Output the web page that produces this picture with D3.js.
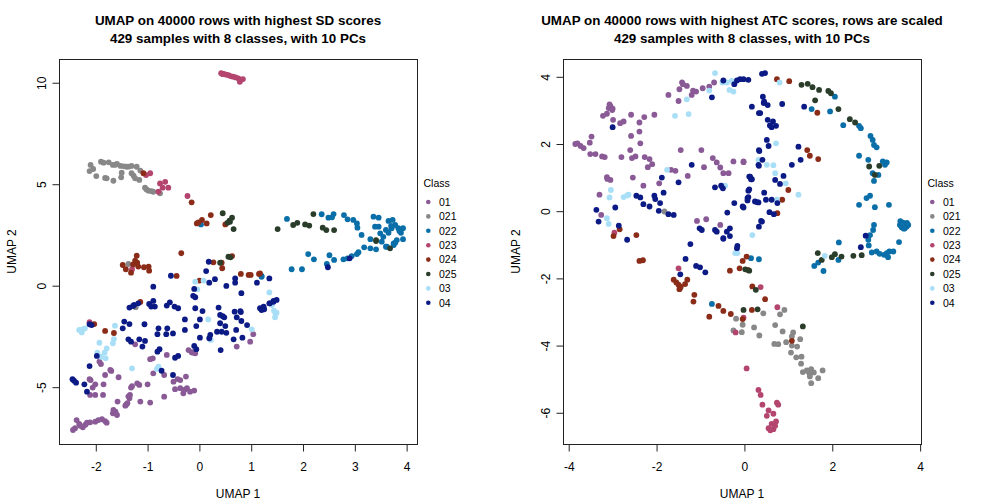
<!DOCTYPE html>
<html>
<head>
<meta charset="utf-8">
<script src="https://cdn.jsdelivr.net/npm/d3@7"></script>
<style>
  body { margin: 0; background: #fff; }
  svg text { font-family: "Liberation Sans", Arial, sans-serif; }
</style>
</head>
<body>
<div id="vis"></div>
<script>
const classes = ["01", "021", "022", "023", "024", "025", "03", "04"];
const class_colors = ["#8a5a96", "#888888", "#0a6fa8", "#b4456e", "#8b2c18", "#2a3d2a", "#a8dff7", "#0c1a85"];

const sd_titles = ["UMAP on 40000 rows with highest SD scores", "429 samples with 8 classes, with 10 PCs"];
const atc_titles = ["UMAP on 40000 rows with highest ATC scores, rows are scaled", "429 samples with 8 classes, with 10 PCs"];
const sd_xticks = [-2, -1, 0, 1, 2, 3, 4];
const sd_yticks = [-5, 0, 5, 10];
const atc_xticks = [-4, -2, 0, 2, 4];
const atc_yticks = [-6, -4, -2, 0, 2, 4];

// SD panel, one array per class, [UMAP 1, UMAP 2]
const sd_01 = [[-1.24,-2.89],[-0.90,-3.58],[-0.63,-3.41],[-0.21,-3.17],[-0.15,-3.28],[-0.08,-3.33],[0.72,-3.00],[0.98,-2.76],[1.04,-2.39],[-1.93,-3.74],[-1.90,-3.86],[-1.72,-4.15],[-1.82,-4.40],[-1.56,-4.51],[-0.89,-4.32],[-0.68,-4.40],[-2.10,-4.65],[-2.01,-4.86],[-2.06,-5.02],[-1.85,-4.86],[-1.32,-5.02],[-1.20,-4.81],[-1.16,-4.89],[-1.00,-4.86],[-0.50,-4.73],[-0.37,-4.65],[-0.26,-4.48],[-0.47,-5.10],[-0.37,-5.05],[-0.24,-5.05],[-0.18,-5.22],[-0.10,-5.17],[-0.31,-5.30],[-2.11,-5.38],[-2.01,-5.38],[-1.86,-5.38],[-1.34,-5.38],[-1.35,-5.55],[-1.39,-5.79],[-1.43,-5.91],[-1.58,-5.71],[-1.14,-5.71],[-0.95,-5.76],[-0.68,-5.47],[-1.66,-6.12],[-1.67,-6.29],[-1.59,-6.37],[-1.88,-6.58],[-1.82,-6.67],[-2.01,-6.70],[-2.17,-6.75],[-2.37,-6.62],[-2.32,-6.81],[-2.40,-7.02],[-2.44,-7.11],[-2.25,-6.98],[-2.11,-6.73],[-1.79,-6.75],[-2.12,-4.61],[-1.37,-5.45],[-1.41,-5.85],[-0.42,-4.60],[-0.28,-5.12],[-2.30,-6.90],[-1.95,-6.62],[-1.62,-6.20],[-1.70,-4.20],[-0.95,-3.62],[-0.12,-3.30],[-1.30,-4.95],[-2.20,-6.85]];
const sd_021 = [[-2.10,5.95],[-2.12,5.65],[-1.99,5.40],[-1.90,6.11],[-1.85,6.06],[-1.82,5.31],[-1.66,5.17],[-1.67,5.95],[-1.59,6.00],[-1.52,5.90],[-1.40,5.86],[-1.31,5.90],[-1.21,5.86],[-1.14,5.67],[-1.50,5.57],[-1.51,5.34],[-1.31,5.54],[-1.24,5.29],[-1.16,5.21],[-1.05,4.83],[-0.98,4.68],[-0.89,4.63],[-0.76,4.55],[-1.79,5.29],[-2.05,5.75],[-1.75,6.08],[-1.45,5.88],[-1.27,5.42],[-0.93,4.66],[-1.02,4.74],[-1.62,5.96],[-1.36,5.87],[-1.37,1.07],[-1.23,-1.06]];
const sd_022 = [[1.69,3.29],[2.36,3.52],[2.49,3.35],[2.59,3.53],[2.56,3.37],[2.79,3.48],[2.86,3.27],[2.97,3.24],[3.04,3.07],[3.05,2.86],[3.13,2.50],[3.36,3.40],[3.46,3.35],[3.39,2.91],[3.46,2.91],[3.49,2.58],[3.65,3.19],[3.73,3.24],[3.78,2.99],[3.71,2.83],[3.84,2.83],[3.93,2.83],[3.89,2.61],[3.93,2.29],[3.65,2.61],[3.55,2.41],[3.30,2.29],[3.18,1.89],[3.30,1.84],[3.41,1.79],[3.62,1.92],[3.75,2.09],[3.81,2.25],[2.10,1.56],[2.21,1.30],[2.51,1.50],[2.60,1.27],[2.46,1.07],[2.78,1.30],[2.86,1.35],[2.94,1.46],[3.04,1.56],[3.07,1.65],[1.78,0.81],[1.98,0.81],[3.52,2.17],[3.60,1.92],[3.75,2.00],[3.78,2.12],[3.70,2.95],[3.86,2.70],[3.60,2.75],[0.03,3.02],[1.20,0.44],[1.20,0.48]];
const sd_023 = [[0.42,10.47],[0.47,10.44],[0.52,10.40],[0.56,10.38],[0.60,10.33],[0.65,10.30],[0.70,10.26],[0.75,10.22],[0.80,10.15],[0.84,10.18],[0.78,10.05],[0.45,10.42],[-1.03,5.45],[-0.95,5.54],[-0.76,5.04],[-0.66,5.12],[-0.60,4.83],[-0.71,4.83],[-0.79,4.63],[-0.23,4.42],[-1.30,0.81],[-2.12,-1.80]];
const sd_024 = [[-1.08,5.54],[-0.15,4.11],[-0.05,3.07],[0.05,3.24],[0.14,3.07],[0.22,3.48],[0.50,3.02],[-1.21,1.48],[-1.24,1.23],[-1.48,1.02],[-1.42,0.81],[-1.32,0.64],[-1.18,0.94],[-1.07,0.91],[-0.98,0.94],[-0.97,0.74],[-1.20,1.13],[-0.35,1.60],[-0.44,0.48],[-1.14,-0.80],[-1.82,-2.23],[-1.65,-2.33],[-2.03,-1.89],[0.27,1.15],[0.43,1.13],[0.44,0.86],[0.63,1.46],[0.80,0.58],[0.95,0.53],[0.99,0.53],[1.15,0.58],[0.00,0.25],[1.17,0.61],[-0.02,3.12],[-1.28,1.05]];
const sd_025 = [[0.45,3.57],[0.63,3.35],[0.59,3.15],[0.54,3.10],[0.66,2.79],[1.51,2.79],[1.81,2.99],[1.89,3.10],[2.04,3.02],[2.12,2.96],[2.20,3.53],[2.38,2.86],[2.45,2.74],[2.60,2.74],[3.41,2.25],[3.68,1.84],[3.41,2.20],[0.56,1.43],[0.40,1.13],[0.60,1.40],[0.58,3.20]];
const sd_03 = [[1.35,-0.33],[1.40,-0.95],[1.44,-1.23],[1.49,-1.33],[1.46,-1.56],[-0.08,0.20],[0.08,0.25],[-0.04,-0.18],[0.17,-1.66],[0.22,-2.67],[1.01,-2.15],[-2.25,-2.15],[-2.21,-2.10],[-2.32,-2.18],[-1.63,-1.97],[-1.65,-2.63],[-1.67,-2.84],[-1.93,-2.81],[-1.79,-3.09],[-1.83,-3.30],[-1.97,-3.30],[-1.90,-3.50],[-1.81,-3.58],[-1.30,-4.07],[-0.79,-3.99],[-0.82,-4.10],[1.47,-1.40],[-2.27,-2.30]];
const sd_04 = [[0.18,1.18],[0.13,0.72],[-0.55,0.49],[-0.89,-0.05],[0.19,0.15],[0.30,0.32],[-0.10,-0.16],[-0.08,-0.57],[0.52,-0.01],[0.69,0.36],[0.69,0.15],[0.81,-0.37],[1.11,0.15],[1.35,0.36],[-1.35,-1.08],[-1.26,-0.95],[-1.18,-0.87],[-0.97,-0.90],[-0.89,-0.75],[-0.86,-1.03],[-0.93,-1.03],[-0.63,-0.98],[-0.57,-0.82],[-0.48,-1.03],[-0.41,-1.11],[-0.08,-1.11],[0.06,-1.25],[0.37,-1.08],[0.40,-1.44],[0.48,-1.56],[0.68,-1.28],[0.79,-1.25],[0.72,-1.56],[0.81,-1.74],[0.92,-1.94],[1.17,-1.11],[1.25,-1.16],[1.36,-0.87],[1.43,-0.79],[-1.45,-1.77],[-1.35,-1.89],[-1.48,-2.10],[-1.06,-1.90],[-0.79,-2.10],[-0.62,-2.10],[-0.81,-2.39],[-0.64,-2.39],[-0.51,-2.35],[-0.28,-1.66],[-0.28,-2.18],[-0.06,-1.99],[0.01,-1.66],[0.01,-2.56],[0.21,-2.43],[0.19,-2.59],[0.34,-2.27],[0.43,-2.27],[0.52,-2.32],[0.40,-1.85],[0.50,-1.99],[0.71,-2.18],[0.83,-2.56],[0.66,-2.64],[-1.37,-2.64],[-1.32,-2.76],[-1.16,-2.64],[-1.05,-2.72],[-1.10,-3.00],[-0.77,-3.13],[-0.81,-3.25],[-0.47,-3.55],[-0.41,-3.46],[-0.10,-2.97],[-0.06,-3.13],[0.41,-3.17],[-2.12,-1.90],[-2.08,-1.94],[-1.98,-3.46],[-2.12,-3.96],[-0.73,-4.19],[-0.51,-4.40],[-2.45,-4.61],[-2.38,-4.78],[-2.22,-4.86],[-2.17,-5.22],[2.48,0.91],[2.90,1.35],[1.35,-0.87],[1.24,-1.03],[1.20,-1.20],[1.43,-0.75],[1.49,-0.70],[-0.12,-0.50],[-1.28,-1.00],[0.45,-1.50],[0.80,-1.30],[-2.42,-4.68]];

// ATC panel
const atc_01 = [[-1.42,3.83],[-1.31,3.73],[-1.48,3.63],[-1.73,3.46],[-1.50,3.28],[-1.17,3.59],[-1.10,3.56],[-0.95,3.66],[-0.80,3.71],[-0.69,3.83],[-1.20,3.46],[-3.05,3.13],[-3.09,3.07],[-3.01,3.01],[-3.22,2.84],[-3.13,2.90],[-2.99,2.72],[-2.58,2.87],[-2.05,2.87],[-2.75,2.67],[-2.83,2.62],[-2.39,2.64],[-2.28,2.80],[-3.48,2.22],[-2.58,2.24],[-2.39,2.37],[-3.80,2.02],[-3.73,1.94],[-3.66,1.88],[-3.52,2.04],[-2.37,2.02],[-3.51,1.70],[-3.39,1.70],[-3.24,1.63],[-3.18,1.61],[-2.80,1.61],[-2.60,1.82],[-2.48,1.63],[-2.27,1.61],[-2.56,1.58],[-2.16,1.55],[-2.10,1.40],[-2.20,1.31],[-1.45,1.82],[-0.98,1.82],[-1.67,1.23],[-1.57,1.20],[-1.29,1.05],[-0.72,1.58],[-0.63,1.45],[-0.55,1.30],[-0.48,1.13],[-0.36,1.13],[-0.25,1.48],[-0.02,1.46],[-0.92,1.31],[-3.13,1.01],[-3.05,0.93],[-2.54,1.00],[-2.30,0.76],[-1.94,0.83],[-3.30,0.49],[-3.26,-0.11],[-1.08,-0.29],[-0.87,-0.24],[-0.55,-0.41],[-0.02,1.48],[-3.07,3.18],[-3.00,3.05],[-3.85,2.00],[-1.40,3.78],[-3.12,0.96]];
const atc_021 = [[-1.82,-0.01],[-1.46,-2.29],[-0.19,-3.20],[-0.04,-3.38],[-0.25,-3.55],[-0.06,-3.60],[0.22,-3.46],[0.34,-3.70],[0.91,-2.94],[0.81,-3.07],[0.43,-3.04],[0.70,-3.39],[0.87,-3.58],[1.11,-3.61],[1.08,-3.73],[1.27,-3.81],[0.68,-3.95],[0.77,-3.96],[0.95,-3.90],[1.08,-4.00],[1.20,-4.03],[1.06,-4.21],[1.18,-4.35],[1.30,-4.33],[1.29,-4.54],[1.33,-4.79],[1.42,-4.74],[1.52,-4.70],[1.49,-4.84],[1.58,-4.80],[1.49,-4.92],[1.68,-4.97],[1.78,-4.74],[1.52,-5.12],[1.47,-4.80]];
const atc_022 = [[2.06,3.41],[1.53,3.04],[1.95,2.97],[2.25,2.56],[2.61,2.54],[2.65,2.47],[2.87,2.24],[2.92,2.12],[2.95,1.97],[3.01,1.90],[2.61,1.65],[2.82,1.53],[3.15,1.48],[3.24,1.45],[3.20,1.38],[2.92,1.13],[3.05,1.08],[2.95,0.90],[2.86,0.46],[2.78,0.39],[2.61,0.19],[2.97,0.12],[3.29,0.19],[3.54,-0.41],[3.61,-0.34],[3.69,-0.46],[3.65,-0.51],[3.58,-0.48],[3.73,-0.41],[3.55,-0.30],[3.63,-0.52],[3.70,-0.35],[2.95,-0.41],[2.93,-0.56],[2.86,-0.71],[2.82,-0.85],[2.83,-1.02],[2.15,-0.93],[1.59,-1.63],[1.68,-1.53],[1.80,-1.78],[2.14,-1.45],[2.90,-1.23],[3.01,-1.20],[3.08,-1.27],[3.18,-1.30],[3.27,-1.37],[3.30,-1.20],[3.39,-1.20],[3.24,-1.25],[3.52,-0.92],[0.15,-1.40],[0.33,-1.43],[-0.74,-2.76]];
const atc_023 = [[-2.96,-0.64],[-1.50,-1.70],[-0.02,-3.17],[-0.20,-3.61],[0.05,-4.68],[0.37,-2.26],[0.75,-2.86],[0.32,-5.32],[0.37,-5.47],[0.41,-5.76],[0.74,-5.70],[0.77,-5.76],[0.55,-5.93],[0.66,-6.03],[0.51,-6.09],[0.72,-6.26],[0.62,-6.33],[0.55,-6.46],[0.66,-6.49],[0.59,-6.52],[0.70,-6.39]];
const atc_024 = [[-2.84,-0.54],[-2.98,-0.74],[-2.46,-0.71],[0.74,3.93],[1.02,3.87],[1.66,2.93],[1.43,1.82],[1.49,1.65],[1.68,1.55],[1.00,0.63],[0.86,0.34],[0.75,-0.06],[-2.39,-1.48],[-2.31,-1.46],[-1.61,-2.04],[-1.55,-2.12],[-1.50,-2.19],[-1.48,-2.32],[-1.35,-2.17],[-1.30,-2.04],[-1.14,-2.49],[-1.16,-2.69],[-0.80,-3.14],[-0.59,-2.82],[-0.48,-2.97],[-0.31,-3.06],[-0.33,-1.77],[-0.11,-1.70],[-0.04,-1.48],[0.05,-1.35],[0.08,-1.75],[0.18,-2.24],[0.17,-2.94],[-0.04,-3.21],[0.47,-2.62],[1.08,-3.86],[-1.45,-2.25]];
const atc_025 = [[1.30,3.76],[1.44,3.79],[1.55,3.69],[1.70,3.61],[1.91,3.58],[1.97,3.51],[1.61,3.30],[2.14,3.04],[2.40,2.74],[2.52,2.64],[2.84,1.33],[3.07,1.35],[2.97,1.08],[1.67,-1.25],[1.76,-1.45],[1.99,-1.37],[2.06,-1.28],[2.21,-1.35],[2.48,-1.33],[2.67,-1.31],[0.02,-1.73],[0.11,-1.77],[0.26,-2.34],[-0.02,-2.94],[0.30,-2.92],[1.33,-3.43]];
const atc_03 = [[-0.67,4.11],[-0.50,3.83],[-0.40,3.83],[-0.29,3.88],[-0.80,3.59],[-0.34,3.61],[-0.25,3.56],[-1.31,3.33],[-1.58,2.84],[-1.27,2.89],[-1.76,1.23],[-0.44,0.76],[-3.04,0.63],[-3.07,0.41],[-2.75,0.42],[-2.67,0.47],[-2.64,0.49],[-3.13,-0.21],[-3.09,-0.38],[0.18,-0.71],[0.32,1.53],[0.80,3.83],[0.72,2.02],[0.51,1.38],[0.66,1.37],[0.70,1.13],[0.94,0.83],[1.23,0.49],[0.74,0.34],[-0.21,-1.25],[-0.16,-1.25],[1.83,-1.33]];
const atc_04 = [[-0.48,3.89],[-0.23,3.78],[-0.17,3.89],[-0.10,3.93],[-0.02,3.93],[0.09,3.91],[-0.74,3.39],[0.17,3.11],[0.33,2.92],[-3.00,2.50],[0.33,1.82],[0.33,1.35],[-1.20,1.38],[-1.88,1.00],[-1.50,0.86],[-0.67,0.71],[-0.53,0.76],[-0.49,0.68],[0.11,1.03],[0.15,0.95],[0.11,0.65],[0.09,0.42],[0.07,0.32],[0.28,0.27],[-0.04,0.14],[-0.23,0.24],[-2.46,0.46],[-2.37,0.41],[-2.30,0.21],[-2.16,0.14],[-2.05,0.46],[-2.03,0.36],[-1.92,0.24],[-1.84,0.55],[-3.37,0.04],[-2.94,0.11],[-3.32,-0.31],[-2.86,-0.43],[-1.95,0.01],[-1.73,-0.09],[-1.61,-0.11],[-0.39,-0.04],[-1.02,-0.51],[-0.97,-0.56],[-0.67,-0.56],[-0.63,-0.61],[-0.40,-0.61],[-0.33,-0.51],[-0.48,-0.80],[0.33,-0.46],[-2.67,-0.85],[0.40,4.09],[0.47,4.11],[0.42,3.41],[0.45,3.26],[0.53,3.16],[0.36,2.92],[0.86,3.19],[1.36,3.11],[0.53,2.72],[0.65,2.67],[0.72,2.54],[0.62,2.50],[0.51,2.12],[0.55,1.94],[0.34,1.79],[1.23,1.92],[0.41,1.53],[0.32,1.38],[1.08,1.38],[1.28,1.53],[0.13,1.03],[0.17,0.95],[0.70,0.93],[0.89,1.05],[0.81,0.81],[0.09,0.61],[0.45,0.55],[0.07,0.39],[0.24,0.29],[0.32,0.26],[0.49,0.34],[0.62,0.34],[0.75,0.24],[-0.02,0.11],[0.57,-0.03],[0.67,-0.09],[0.38,-0.29],[2.76,-0.73],[-1.23,-0.98],[-1.34,-1.42],[-1.46,-1.88],[-1.10,-1.63],[-1.01,-1.67],[-0.89,-1.82],[-0.48,-0.82],[-0.33,-0.74],[-0.16,-1.03],[-0.17,-1.10],[2.65,-1.07],[0.40,-0.31],[0.44,3.22],[0.58,2.55]];

const sd_points = [sd_01, sd_021, sd_022, sd_023, sd_024, sd_025, sd_03, sd_04];
const atc_points = [atc_01, atc_021, atc_022, atc_023, atc_024, atc_025, atc_03, atc_04];

const frame_width = 1008;
const frame_height = 504;

const svg = d3.select("#vis")
    .append("svg")
        .attr("width", frame_width)
        .attr("height", frame_height);

// R prints a plain hyphen, not a unicode minus
const tick_fmt = (d) => String(d);

function drawPanel(opts) {
    const x_scale = d3.scaleLinear().domain(opts.xdom).range([opts.left, opts.right]);
    const y_scale = d3.scaleLinear().domain(opts.ydom).range([444, 59]);
    const g = svg.append("g");
    const mid = (opts.left + opts.right) / 2;

    // points, flattened with class index
    const rows = [];
    opts.points.forEach((arr, ci) => arr.forEach((p) => rows.push({x: p[0], y: p[1], c: ci})));
    g.selectAll(".pt")
        .data(rows)
        .enter()
        .append("circle")
            .attr("cx", (d) => x_scale(d.x))
            .attr("cy", (d) => y_scale(d.y))
            .attr("r", 2.9)
            .attr("fill", (d) => class_colors[d.c]);

    // box
    g.append("rect")
        .attr("x", opts.left + 0.5).attr("y", 59.5)
        .attr("width", opts.right - opts.left).attr("height", 385)
        .attr("fill", "none").attr("stroke", "#222").attr("stroke-width", 1);

    const xaxis = g.append("g")
        .attr("transform", "translate(0," + 444.5 + ")")
        .call(d3.axisBottom(x_scale).tickValues(opts.xticks).tickSize(7).tickPadding(11).tickFormat(tick_fmt));
    const yaxis = g.append("g")
        .attr("transform", "translate(" + (opts.left + 0.5) + ",0)")
        .call(d3.axisLeft(y_scale).tickValues(opts.yticks).tickSize(7).tickFormat(tick_fmt));
    [xaxis, yaxis].forEach((a) => {
        a.select(".domain").remove();
        a.selectAll("line").attr("stroke", "#222");
        a.selectAll("text").attr("font-size", "12px").attr("fill", "#000")
            .attr("font-family", "Liberation Sans, Arial, sans-serif");
    });
    // y labels parallel to the axis
    yaxis.selectAll(".tick text")
        .attr("x", null).attr("dy", null)
        .attr("text-anchor", "middle")
        .attr("transform", "translate(" + (-14) + ",0) rotate(-90)");

    opts.titles.forEach((t, i) => {
        g.append("text")
            .attr("x", mid).attr("y", 25 + i * 18)
            .attr("text-anchor", "middle")
            .attr("font-size", "13.4px").attr("font-weight", "bold")
            .text(t);
    });
    g.append("text")
        .attr("x", mid).attr("y", 498)
        .attr("text-anchor", "middle").attr("font-size", "12px")
        .text("UMAP 1");
    g.append("text")
        .attr("transform", "translate(" + (opts.left - 43) + ",251.5) rotate(-90)")
        .attr("text-anchor", "middle").attr("font-size", "12px")
        .text("UMAP 2");

    // legend
    const lg = g.append("g").attr("transform", "translate(" + opts.right + ",0)");
    lg.append("text").attr("x", 6.5).attr("y", 187).attr("font-size", "10.5px").text("Class");
    classes.forEach((c, i) => {
        const cy = 202 + i * 14.4;
        lg.append("circle").attr("cx", 11.3).attr("cy", cy).attr("r", 2.3).attr("fill", class_colors[i]);
        lg.append("text").attr("x", 22).attr("y", cy + 3.8).attr("font-size", "10.5px").text(c);
    });
}

drawPanel({left: 59, right: 417, xdom: [-2.71, 4.20], ydom: [-7.80, 11.17],
    xticks: sd_xticks, yticks: sd_yticks, titles: sd_titles, points: sd_points});
drawPanel({left: 563, right: 921, xdom: [-4.13, 4.02], ydom: [-6.93, 4.53],
    xticks: atc_xticks, yticks: atc_yticks, titles: atc_titles, points: atc_points});
</script>
</body>
</html>
